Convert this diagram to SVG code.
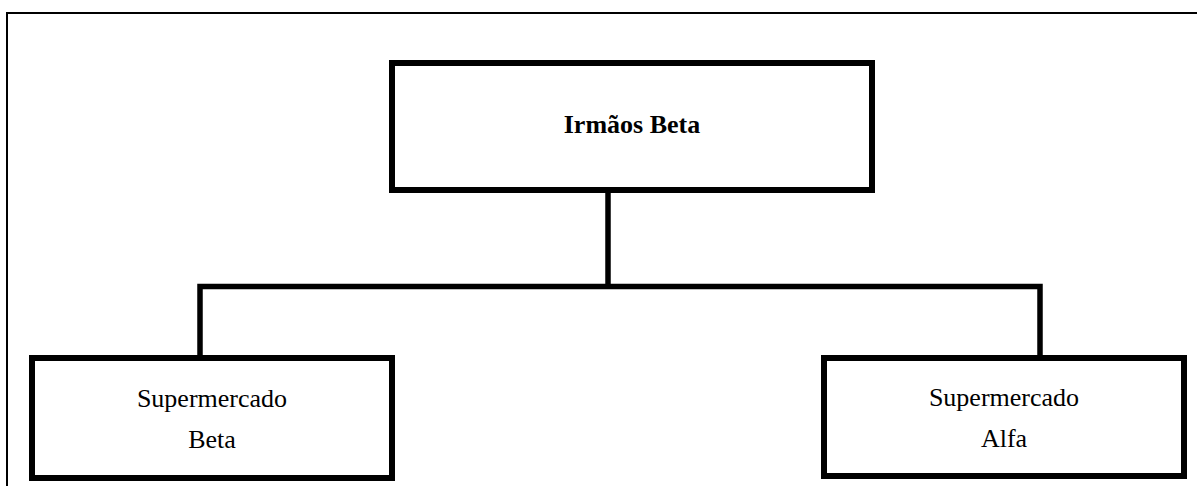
<svg xmlns="http://www.w3.org/2000/svg" width="1197" height="486" viewBox="0 0 1197 486">
<style>
.frame{fill:none;stroke:#000;stroke-width:2}
.box{fill:#fff;stroke:#000;stroke-width:6}
.conn{fill:none;stroke:#000;stroke-width:5.5}
text{font-family:"Liberation Serif","Times New Roman",serif;fill:#000;text-anchor:middle}
.title{font-size:26px;font-weight:bold}
.label{font-size:26px}
</style>
<rect width="1197" height="486" fill="#fff"/>
<rect class="frame" x="7" y="13" width="1200" height="500"/>
<g id="connectors">
<polyline class="conn" points="608,190 608,286.5"/>
<polyline class="conn" points="200,358 200,286.5 1040,286.5 1040,358"/>
</g>
<g id="node-irmaos-beta">
<rect class="box" x="392" y="63" width="480" height="127"/>
<text class="title" x="632" y="133">Irmãos Beta</text>
</g>
<g id="node-supermercado-beta">
<rect class="box" x="32" y="358" width="360" height="120"/>
<text class="label" x="212" y="407">Supermercado</text>
<text class="label" x="212" y="447.5">Beta</text>
</g>
<g id="node-supermercado-alfa">
<rect class="box" x="824" y="358" width="360" height="118"/>
<text class="label" x="1004" y="406">Supermercado</text>
<text class="label" x="1004" y="446.5">Alfa</text>
</g>
</svg>
